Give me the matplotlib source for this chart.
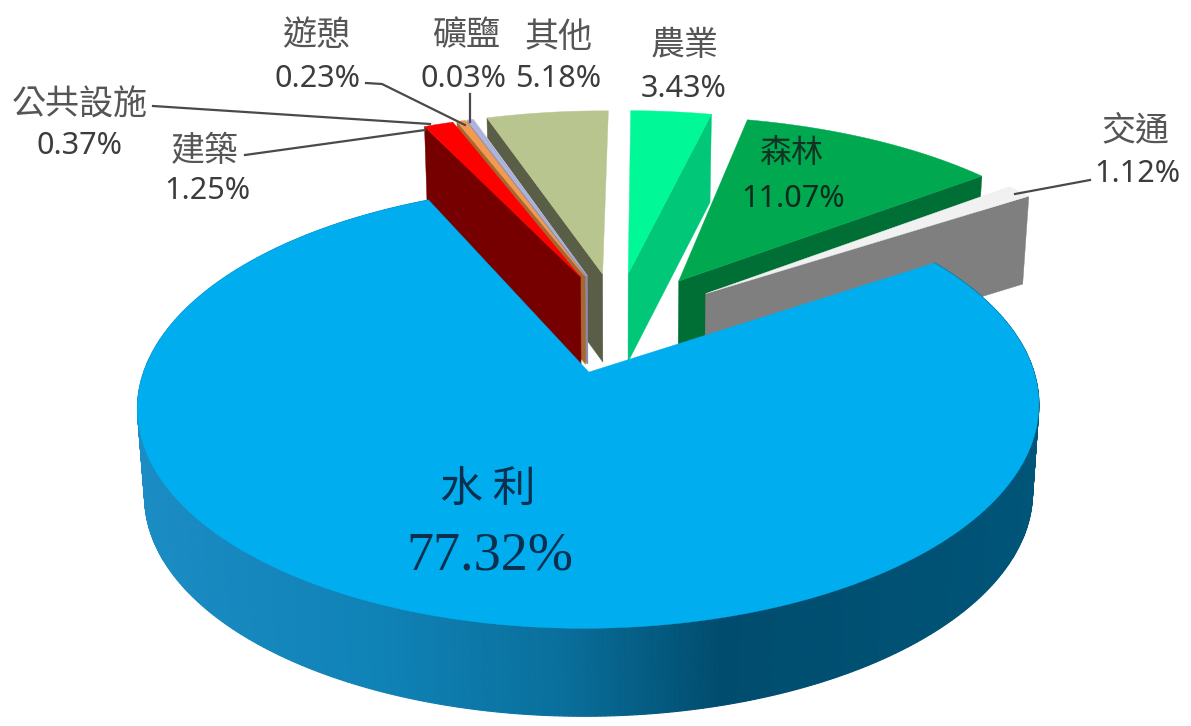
import numpy as np
import matplotlib
matplotlib.use("Agg")
import matplotlib.pyplot as plt
from matplotlib.colors import to_rgb

# ---- data (clockwise from the top) ----
names = ['農業', '森林', '交通', '水利', '建築', '公共設施', '遊憩', '礦鹽', '其他']
values = [3.43, 11.07, 1.12, 77.32, 1.25, 0.37, 0.23, 0.03, 5.18]
top_colors = ['#00F996', '#00A850', '#F1F1F1', '#00AEEF', '#FF0000', '#F29A50', '#AEB4DC', '#C8CCE8', '#B9C58F']
wall_colors = ['#00C878', '#006F35', '#7F7F7F', '#0A6F9C', '#760000', '#A9662F', '#8A8CA8', '#8A8CA8', '#5A5E47']
x_scale = [1, 1, 1, 0.96, 1, 1, 1, 1, 1]
apex_shift = [0, 10, 10, 0, 0, 0, 0, 0, 0]

W, H = 1191, 726
# ---- projection of the tilted, exploded pie ----
CX, CY = 617.0, 322.0
RX, RY = 447.0, 201.0
PERSP = 0.15
EXP_X, EXP_Y = 0.22, 0.25
DEPTH = 88.0
SHRINK = 0.985
START = 0.6


def project(x, y, low=False):
    w = 1 + PERSP * y
    sx = RX * x / w
    sy = CY - RY * y / w
    if low:
        sx *= SHRINK
        sy += DEPTH
    return CX + sx, sy


def disc(ang_deg, off, xs=1.0):
    a = np.radians(ang_deg)
    return off[0] + xs * np.sin(a), off[1] + np.cos(a)


fig = plt.figure(figsize=(W / 100, H / 100), dpi=100, facecolor='white')
ax = fig.add_axes([0, 0, 1, 1])
ax.set_xlim(0, W)
ax.set_ylim(H, 0)
ax.axis('off')

spans = np.array(values) / sum(values) * 360
ends = START + np.cumsum(spans)
starts = ends - spans


def draw_slice(i, z):
    a0, a1 = starts[i], ends[i]
    mid = np.radians((a0 + a1) / 2)
    off = (EXP_X * np.sin(mid), EXP_Y * np.cos(mid))
    arc = np.linspace(a0, a1, max(int(spans[i] * 2), 3))
    apex = project(*off)
    apex = (apex[0] + apex_shift[i], apex[1])
    apex_low = project(*off, low=True)
    apex_low = (apex_low[0] + apex_shift[i], apex_low[1])
    xs = x_scale[i]
    if names[i] == '水利':
        # curved outer wall with horizontal shading
        stops_x = [137, 380, 560, 720, 1040]
        stops_c = np.array([to_rgb(c) for c in ['#1C8CC4', '#0F82B6', '#0A6F9C', '#004C6E', '#005578']])
        for p, q in zip(arc[:-1], arc[1:]):
            xa, ya = project(*disc(p, off, xs))
            xb, yb = project(*disc(q, off, xs))
            xc, yc = project(*disc(q, off, xs), low=True)
            xd, yd = project(*disc(p, off, xs), low=True)
            mx = (xa + xb) / 2
            col = [np.interp(mx, stops_x, stops_c[:, n]) for n in range(3)]
            ax.fill([xa, xb, xc, xd], [ya, yb, yc, yd], color=col, lw=0.8, zorder=z)
    else:
        edge = a1 if a1 < 180 else a0
        ex, ey = project(*disc(edge, off, xs))
        ex2, ey2 = project(*disc(edge, off, xs), low=True)
        ax.fill([apex[0], ex, ex2, apex_low[0]], [apex[1], ey, ey2, apex_low[1]],
                color=wall_colors[i], lw=0.3, zorder=z)
    pts = [project(*disc(a, off, xs)) for a in arc]
    px = [apex[0]] + [p[0] for p in pts]
    py = [apex[1]] + [p[1] for p in pts]
    ax.fill(px, py, color=top_colors[i], lw=0.3, zorder=z)


order = [0, 1, 2, 8, 7, 6, 5, 4, 3]
for rank, i in enumerate(order):
    draw_slice(i, rank + 1)

# ---- leader lines ----
line_c = '#4A4A4A'
leaders = [
    ([153, 430], [106, 124]),
    ([245, 425], [155, 130]),
    ([366, 382, 465], [83, 84, 125]),
    ([470, 470], [94, 122]),
    ([1090, 1015], [180, 194]),
]
for lx, ly in leaders:
    ax.plot(lx, ly, color=line_c, lw=1.6, zorder=20)

# ---- labels ----
FONT = ['Noto Sans CJK TC', 'DejaVu Sans']
NUM = ['Noto Sans', 'DejaVu Sans']
label_pos = {
    '農業': ((685, 46), (684, 89)),
    '森林': ((792, 153), (793, 199)),
    '交通': ((1135, 131), (1137, 174)),
    '建築': ((205, 151), (207, 191)),
    '公共設施': ((80, 105), (80, 146)),
    '遊憩': ((316, 36), (318, 79)),
    '礦鹽': ((466, 36), (464, 79)),
    '其他': ((558, 38), (558, 79)),
}
for name, val in zip(names, values):
    if name == '水利':
        ax.text(488, 490, '水 利', family=FONT, fontsize=31, color='#0B2F4E',
                ha='center', va='center', zorder=21)
        ax.text(490, 556, f'{val:.2f}%', family=['Liberation Serif'], fontsize=39,
                color='#0B2F4E', ha='center', va='center', zorder=21)
        continue
    (nx, ny), (px, py) = label_pos[name]
    dark = name == '森林'
    c1 = '#123322' if dark else '#555555'
    c2 = '#0E2A1C' if dark else '#3C3C3C'
    ax.text(nx, ny, name, family=FONT, fontsize=23 if dark else 24.5, color=c1,
            ha='center', va='center', zorder=21)
    ax.text(px, py, f'{val:.2f}%', family=NUM, fontsize=22, color=c2,
            weight='medium' if dark else 'normal', ha='center', va='center', zorder=21)

fig.savefig('out.png', dpi=100, facecolor='white')
